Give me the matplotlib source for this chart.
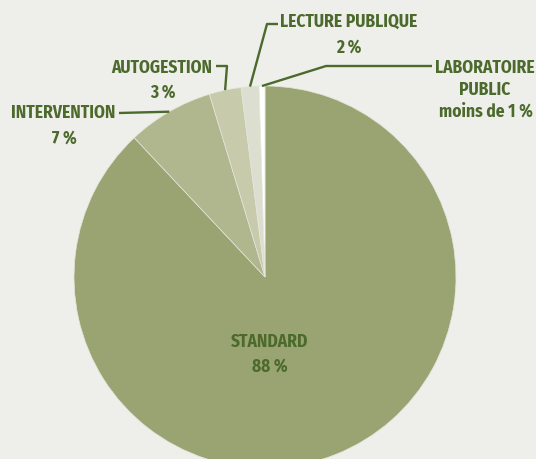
import matplotlib.pyplot as plt
import numpy as np

categories = ['STANDARD', 'INTERVENTION', 'AUTOGESTION', 'LECTURE PUBLIQUE', 'LABORATOIRE\nPUBLIC']
values = [88, 7.3, 2.7, 1.5, 0.5]
pct_labels = ['88 %', '7 %', '3 %', '2 %', 'moins de 1 %']
colors = ['#9aa473', '#b0b68e', '#c7caab', '#dcdecf', '#ffffff']

bg = '#eeeeea'
txt = '#4b6a2c'
fam = ['Fira Sans Condensed', 'Roboto Condensed', 'Barlow Condensed', 'DejaVu Sans']
fs = 12.5

# pixel -> data helper (pie centre and radius in pixels)
W, H = 536, 460
CX, CY, R = 265, 278, 191


def px(x, y):
    return ((x - CX) / R, (CY - y) / R)


fig = plt.figure(figsize=(5.36, 4.60), dpi=100, facecolor=bg)
ax = fig.add_axes([0, 0, 1, 1])
wedges, _ = ax.pie(values, colors=colors, startangle=90, counterclock=False,
                   radius=1, center=(0, 0),
                   wedgeprops=dict(linewidth=0.5, edgecolor='#e4e6da'))
x0, y0 = px(0, H)
x1, y1 = px(W, 0)
ax.set_xlim(x0, x1)
ax.set_ylim(y0, y1)
ax.set_aspect('equal')
ax.axis('off')


def edge(w):
    a = np.deg2rad((w.theta1 + w.theta2) / 2)
    return np.cos(a), np.sin(a)


def leader(w, *pts):
    xs, ys = [edge(w)[0]], [edge(w)[1]]
    for p in pts:
        x, y = px(*p)
        xs.append(x)
        ys.append(y)
    ax.plot(xs, ys, color=txt, lw=1.7, solid_capstyle='butt')


def label(x, y, s, ha='center'):
    ax.text(*px(x, y), s, ha=ha, va='baseline', color=txt, fontsize=fs,
            fontweight='bold', family=fam)


# STANDARD
label(270, 347, categories[0])
label(270, 372, pct_labels[0])

# INTERVENTION
leader(wedges[1], (119, 114))
label(115, 118, categories[1], ha='right')
label(64, 144, pct_labels[1])

# AUTOGESTION
leader(wedges[2], (227, 67), (216, 67))
label(212, 73, categories[2], ha='right')
label(163, 98, pct_labels[2])

# LECTURE PUBLIQUE
leader(wedges[3], (267, 25), (278, 25))
label(349, 27, categories[3])
label(349, 53, pct_labels[3])

# LABORATOIRE PUBLIC
leader(wedges[4], (326, 67), (432, 67))
label(485, 73, 'LABORATOIRE')
label(485, 95, 'PUBLIC')
label(486, 117, pct_labels[4])

fig.savefig('out.png', dpi=100, facecolor=bg)
